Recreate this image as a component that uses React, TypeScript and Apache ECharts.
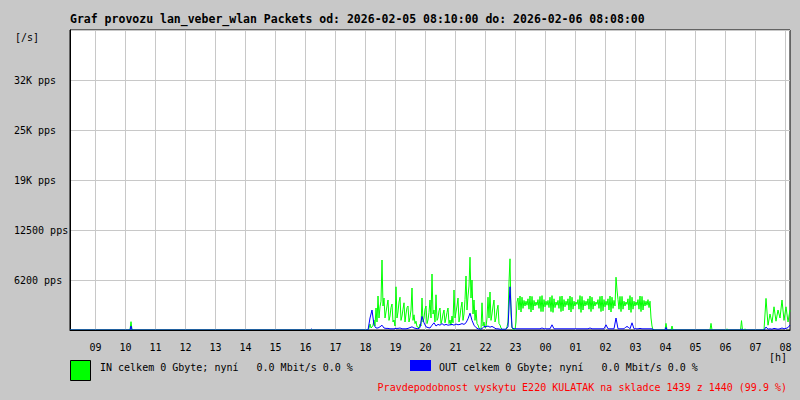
import { useEffect, useRef } from "react";
import * as echarts from "echarts";

// ---- time axis (minutes since 00:00 of the first day) ----
const RANGE_START = 489; // 08:09
const RANGE_END = 1929; // 08:09 next day
const hourTickMinutes = [
  540, 600, 660, 720, 780, 840, 900, 960, 1020, 1080, 1140, 1200,
  1260, 1320, 1380, 1440, 1500, 1560, 1620, 1680, 1740, 1800, 1860, 1920,
];
const hourLabels = [
  "09", "10", "11", "12", "13", "14", "15", "16", "17", "18", "19", "20",
  "21", "22", "23", "00", "01", "02", "03", "04", "05", "06", "07", "08",
];

// ---- y axis ----
const yTickValues = [6250, 12500, 18750, 25000, 31250];
const yTickLabels = ["6200 pps", "12500 pps", "19K pps", "25K pps", "32K pps"];

// ---- IN (green) packets/s, 2-minute samples from 17:57 to 03:39 ----
const mainStart = 1077;
const inStep = 2;
const inEvening = [
  0, 0, 0, 0, 0, 250, 750, 250, 375, 600,
  1250, 500, 2750, 1000, 4250, 1500, 2900, 3600, 8750, 3000,
  4000, 1500, 2250, 3000, 3750, 1200, 1750, 2800, 3250, 1000,
  1250, 500, 5400, 1500, 2250, 3500, 4100, 1200, 1750, 2600,
  3400, 1000, 2000, 2800, 3000, 1000, 1600, 2500, 5250, 1200,
  1900, 800, 1100, 400, 375, 250, 750, 500, 4000, 1000,
  1500, 2600, 3000, 800, 1250, 2200, 3750, 1500, 7000, 2000,
  2500, 1000, 4400, 1200, 1500, 2400, 2750, 800, 1250, 2000,
  2500, 900, 1500, 2200, 2750, 800, 1250, 600, 1750, 900,
  5000, 1500, 2250, 3000, 4000, 1000, 1750, 2800, 3500, 1200,
  2000, 3800, 6750, 2500, 4250, 5500, 9100, 4000, 6250, 2000,
  3750, 1200, 2500, 800, 625, 250, 125, 0, 3400, 500,
  1000, 250, 375, 1500, 4100, 1500, 4750, 1200, 2000, 3000,
  3750, 1000, 1500, 2500, 3100, 800, 625, 250, 125, 0,
  0, 0, 125, 400, 1000, 6000, 8900, 2000, 250, 125,
  0, 0,
];
const inNight = [
  1000, 3500, 4000, 2500, 4250, 2250, 4100, 2700, 3700, 3000,
  3600, 3100, 3900, 2600, 4250, 2250, 4200, 2500, 3700, 3000,
  3500, 3100, 3800, 2700, 4200, 2300, 4300, 2300, 3800, 2900,
  3600, 3100, 3700, 2800, 4100, 2300, 4300, 2200, 3900, 2800,
  3500, 3100, 3700, 2700, 4200, 2300, 4250, 2400, 3800, 2900,
  3600, 3100, 3900, 2500, 4250, 2250, 4100, 2600, 3600, 3000,
  3500, 3200, 3800, 2600, 4300, 2200, 4200, 2500, 3700, 3000,
  3600, 3100, 3900, 2600, 4250, 2300, 4100, 2600, 3600, 3000,
  3500, 3200, 3800, 2700, 4200, 2300, 4250, 2400, 3800, 2900,
  3600, 3100, 3900, 2500, 4250, 2250, 4100, 2700, 3700, 3000,
  6600, 5000, 3800, 2600, 4200, 2300, 4200, 2600, 3600, 3000,
  3500, 3200, 3900, 2500, 4300, 2200, 4100, 2600, 3600, 3000,
  3500, 3100, 3800, 2600, 4250, 2300, 4200, 2500, 3700, 3000,
  3600, 3100, 3800, 2800, 3600, 1500, 500, 0, 0, 0,
];

// ---- OUT (blue) packets/s, 4-minute samples from 17:57 to 03:37 ----
const outStep = 4;
const outMain = [
  0, 0, 0, 1500, 2500, 600, 250, 250, 400, 600,
  250, 200, 200, 150, 150, 150, 200, 200, 250, 150,
  150, 150, 200, 300, 400, 250, 200, 150, 300, 1700,
  900, 400, 300, 250, 600, 900, 500, 700, 600, 800,
  600, 700, 600, 650, 700, 600, 750, 650, 700, 800,
  700, 900, 1400, 2100, 1200, 600, 300, 150, 100, 150,
  450, 400, 500, 350, 450, 300, 150, 150, 100, 100,
  100, 100, 400, 5400, 300, 150,
  150, 150, 150, 150, 150, 150, 150, 150, 150, 150,
  150, 150, 150, 250, 150, 150, 150, 150, 650, 150,
  150, 150, 150, 150, 150, 150, 150, 150, 150, 150,
  150, 150, 150, 150, 150, 150, 150, 250, 150, 150,
  150, 150, 150, 150, 150, 650, 150, 150, 150, 150,
  1500, 150, 150, 150, 150, 400, 400, 150, 900, 150,
  150, 150, 200, 150, 150, 150, 150, 150, 150, 0,
];

// ---- morning activity, 4-minute samples from 07:17 to 08:09 ----
const morningStart = 1877;
const morningStep = 4;
const inMorning = [0, 3950, 600, 2000, 900, 2900, 1100, 2500, 1500, 3750, 1200, 2900, 1000, 2500];
const outMorning = [0, 370, 100, 150, 100, 200, 150, 100, 150, 250, 150, 200, 300, 625];

// ---- isolated short spikes (minute, pps) ----
const inSpikeTimes = [611, 1681, 1693, 1771, 1803, 1832, 1839];
const inSpikeValues = [1040, 830, 500, 830, 150, 1170, 150];
const outSpikeTimes = [611, 972, 1681, 1832];
const outSpikeValues = [500, 120, 330, 150];

function segment(start: number, step: number, vals: number[]) {
  return vals.map((v, i) => [start + i * step, v]);
}
function spikes(times: number[], vals: number[]) {
  const out: number[][] = [];
  times.forEach((t, i) => {
    out.push([t - 2, 0], [t, vals[i]], [t + 2, 0]);
  });
  return out;
}
function build(parts: number[][][]) {
  const pts = [[RANGE_START, 0] as number[]];
  parts.forEach((p) => pts.push(...p));
  pts.sort((a, b) => a[0] - b[0]);
  return pts;
}

const MONO = '"DejaVu Sans Mono", "Liberation Mono", monospace';

export default function App() {
  const ref = useRef<HTMLDivElement>(null);
  useEffect(() => {
    if (!ref.current) return;
    const chart = echarts.init(ref.current, null, { renderer: "svg" });
    const inMain = [...inEvening, ...inNight];
    const inData = build([
      spikes(inSpikeTimes, inSpikeValues),
      segment(mainStart, inStep, inMain),
      segment(morningStart, morningStep, inMorning),
    ]);
    const outData = build([
      spikes(outSpikeTimes, outSpikeValues),
      segment(mainStart, outStep, outMain),
      segment(morningStart, morningStep, outMorning),
    ]);
    chart.setOption({
      animation: false,
      backgroundColor: "#c8c8c8",
      grid: {
        left: 70,
        right: 10,
        top: 30,
        bottom: 70,
        show: true,
        backgroundColor: "#ffffff",
        borderColor: "#000000",
        borderWidth: 1,
      },
      xAxis: [
        {
          type: "value",
          min: RANGE_START,
          max: RANGE_END,
          axisLine: { show: false },
          axisTick: { show: false, customValues: hourTickMinutes },
          axisLabel: {
            customValues: hourTickMinutes,
            formatter: (v: number) => {
              const i = hourTickMinutes.indexOf(v);
              return i >= 0 ? hourLabels[i] : "";
            },
            color: "#000",
            fontFamily: MONO,
            fontSize: 10,
            margin: 12,
          },
          splitLine: { show: true, lineStyle: { color: "#c8c8c8", width: 1 } },
        },
        {
          type: "value",
          min: RANGE_START,
          max: RANGE_END,
          position: "bottom",
          z: 10,
          axisLine: { show: true, lineStyle: { color: "#000", width: 1 } },
          axisTick: { show: false },
          axisLabel: { show: false },
          splitLine: { show: false },
        },
      ],
      yAxis: {
        type: "value",
        min: 0,
        max: 37500,
        interval: 6250,
        axisLine: { show: true, lineStyle: { color: "#000" } },
        axisTick: { show: false },
        axisLabel: {
          formatter: (v: number) => {
            const i = yTickValues.indexOf(v);
            return i >= 0 ? yTickLabels[i] : "";
          },
          align: "left",
          margin: 56,
          color: "#000",
          fontFamily: MONO,
          fontSize: 10,
          padding: [7, 0, 0, 0],
        },
        splitLine: { show: true, lineStyle: { color: "#c8c8c8", width: 1 } },
      },
      series: [
        {
          name: "IN",
          type: "line",
          xAxisIndex: 0,
          data: inData,
          symbol: "none",
          lineStyle: { color: "#00ff00", width: 1 },
          itemStyle: { color: "#00ff00" },
          z: 2,
        },
        {
          name: "OUT",
          type: "line",
          xAxisIndex: 0,
          data: outData,
          symbol: "none",
          lineStyle: { color: "#0000ff", width: 1 },
          itemStyle: { color: "#0000ff" },
          z: 3,
        },
      ],
      graphic: [
        {
          type: "text",
          x: 70,
          y: 19,
          style: {
            text: "Graf provozu lan_veber_wlan Packets od: 2026-02-05 08:10:00 do: 2026-02-06 08:08:00",
            fill: "#000",
            font: `bold 11.5px ${MONO}`,
            align: "left",
            verticalAlign: "middle",
          },
        },
        {
          type: "text",
          x: 15,
          y: 37,
          style: { text: "[/s]", fill: "#000", font: `10px ${MONO}`, verticalAlign: "middle" },
        },
        {
          type: "text",
          x: 787,
          y: 357,
          style: { text: "[h]", fill: "#000", font: `10px ${MONO}`, align: "right", verticalAlign: "middle" },
        },
        {
          type: "rect",
          shape: { x: 70.5, y: 360.5, width: 20, height: 20 },
          style: { fill: "#00ff00", stroke: "#000", lineWidth: 1 },
        },
        {
          type: "text",
          x: 100,
          y: 367,
          style: {
            text: "IN celkem 0 Gbyte; nyní   0.0 Mbit/s 0.0 %",
            fill: "#000",
            font: `10px ${MONO}`,
            verticalAlign: "middle",
          },
        },
        {
          type: "rect",
          shape: { x: 410, y: 360, width: 21, height: 11 },
          style: { fill: "#0000ff" },
        },
        {
          type: "text",
          x: 439,
          y: 367,
          style: {
            text: "OUT celkem 0 Gbyte; nyní   0.0 Mbit/s 0.0 %",
            fill: "#000",
            font: `10px ${MONO}`,
            verticalAlign: "middle",
          },
        },
        {
          type: "text",
          x: 787,
          y: 387,
          style: {
            text: "Pravdepodobnost vyskytu E220 KULATAK na skladce 1439 z 1440 (99.9 %)",
            fill: "#ff0000",
            font: `10px ${MONO}`,
            align: "right",
            verticalAlign: "middle",
          },
        },
      ],
    });
    return () => chart.dispose();
  }, []);
  return (
    <div
      ref={ref}
      style={{ position: "absolute", left: 0, top: 0, width: 800, height: 400 }}
    />
  );
}
